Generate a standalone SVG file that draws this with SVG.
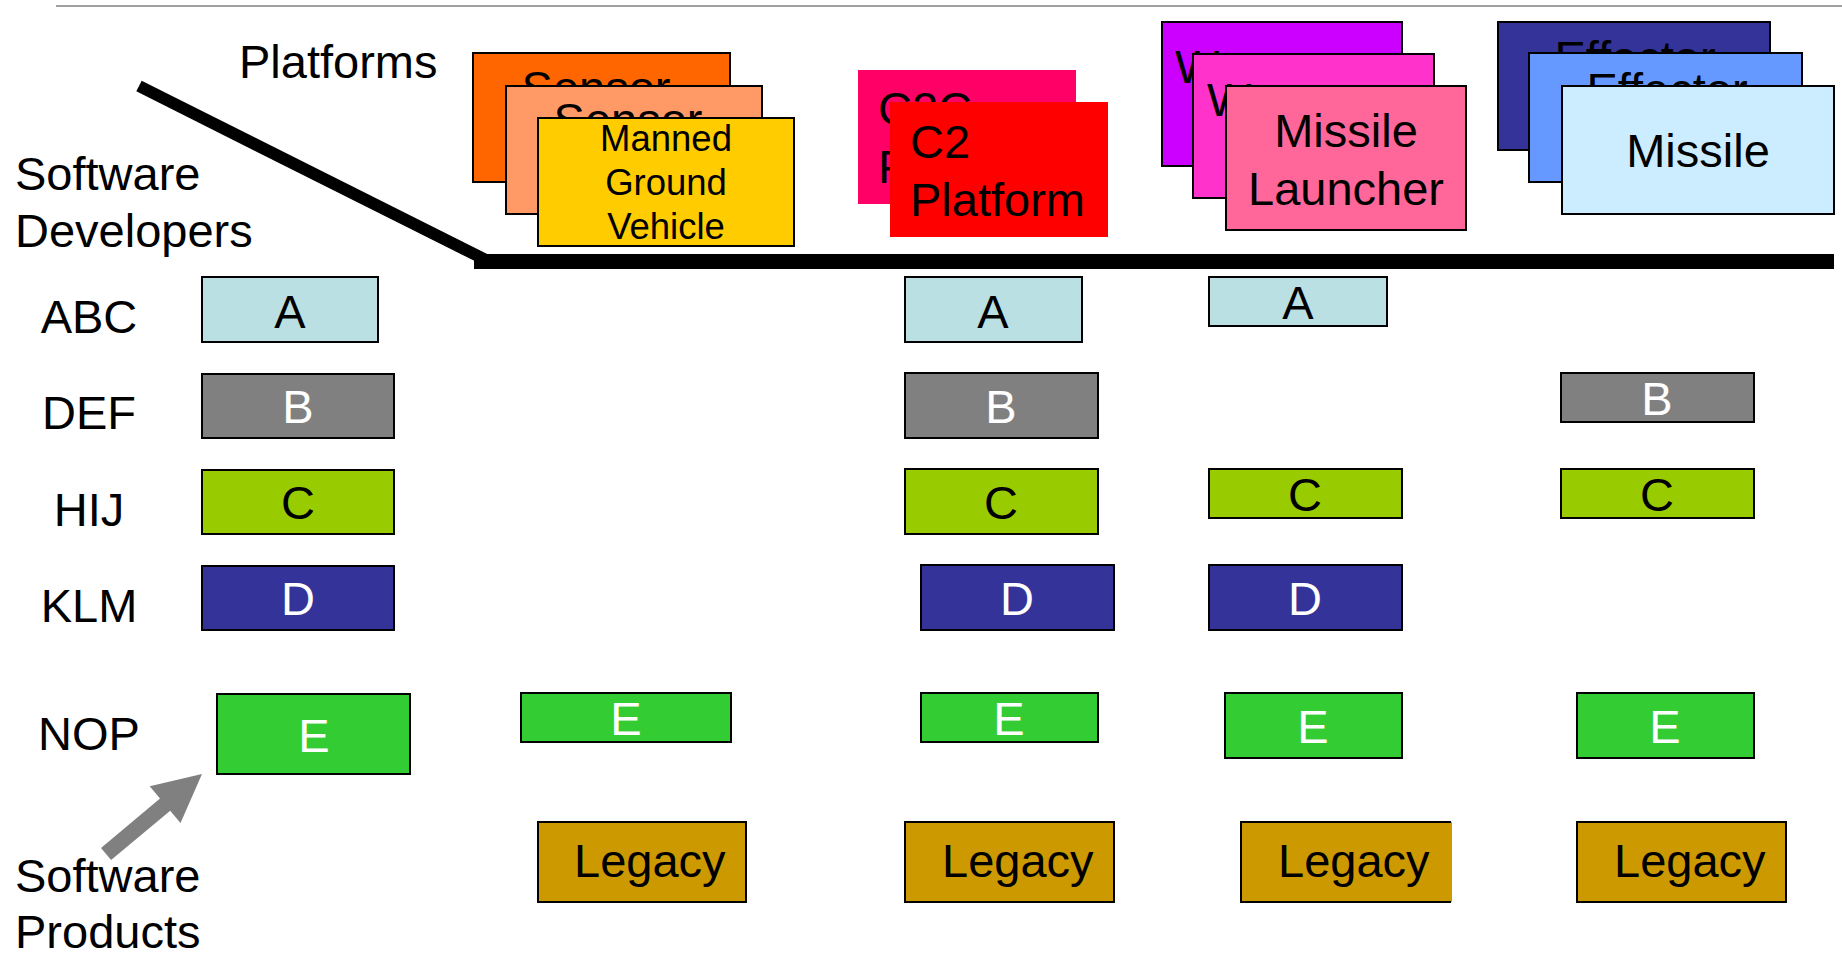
<svg xmlns="http://www.w3.org/2000/svg" width="1842" height="956" viewBox="0 0 1842 956">
  <style>
    .t { font-family: "Liberation Sans", Arial, Helvetica, sans-serif; font-size: 47px; fill: #000; }
    .s { font-size: 36.5px; }
    .w { fill: #fff; }
    .m { text-anchor: middle; }
    .box { stroke: #000; stroke-width: 2; }
    .a { fill: #BBE0E3; }
    .b { fill: #808080; }
    .c { fill: #99CC00; }
    .d { fill: #333399; }
    .e { fill: #33CC33; }
    .leg { fill: #CC9900; }
  </style>

  <!-- header rule -->
  <line x1="56" y1="6" x2="1842" y2="6" stroke="#A0A0A0" stroke-width="2"/>

  <!-- axis titles -->
  <g id="axis-labels">
    <text class="t" x="239" y="78">Platforms</text>
    <text class="t" x="15" y="190">Software</text>
    <text class="t" x="15" y="247">Developers</text>
    <text class="t" x="15" y="892">Software</text>
    <text class="t" x="15" y="948">Products</text>
  </g>

  <!-- divider: diagonal and horizontal bar -->
  <g id="divider">
    <line x1="139" y1="86" x2="488" y2="261" stroke="#000" stroke-width="12"/>
    <rect x="474" y="254" width="1360" height="15" fill="#000"/>
  </g>

  <!-- developer row labels -->
  <g id="developers">
    <text class="t m" x="89" y="333">ABC</text>
    <text class="t m" x="89" y="429">DEF</text>
    <text class="t m" x="89" y="526">HIJ</text>
    <text class="t m" x="89" y="622">KLM</text>
    <text class="t m" x="89" y="750">NOP</text>
  </g>

  <!-- platform stacks -->
  <g id="sensor-stack">
    <rect class="box" x="473" y="53" width="257" height="129" fill="#FF6600"/>
    <text class="t m" x="596" y="104">Sensor</text>
    <rect class="box" x="506" y="86" width="256" height="128" fill="#FF9966"/>
    <text class="t m" x="628" y="136">Sensor</text>
    <rect class="box" x="538" y="118" width="256" height="128" fill="#FFCC00"/>
    <text class="t s m" x="666" y="151">Manned</text>
    <text class="t s m" x="666" y="195">Ground</text>
    <text class="t s m" x="666" y="239">Vehicle</text>
  </g>

  <g id="c2-stack">
    <rect x="858" y="70" width="218" height="134" fill="#FF0066"/>
    <text class="t" x="878" y="125">C2C</text>
    <text class="t" x="878" y="183">Platform</text>
    <rect x="890" y="102" width="218" height="135" fill="#FF0000"/>
    <text class="t" x="910" y="158">C2</text>
    <text class="t" x="910" y="216">Platform</text>
  </g>

  <g id="weapon-stack">
    <rect class="box" x="1162" y="22" width="240" height="144" fill="#CC00FF"/>
    <text class="t" x="1175" y="83">Weapon</text>
    <rect class="box" x="1193" y="54" width="241" height="144" fill="#FF33CC"/>
    <text class="t" x="1207" y="116">Weapon</text>
    <rect class="box" x="1226" y="86" width="240" height="144" fill="#FF6699"/>
    <text class="t m" x="1346" y="147">Missile</text>
    <text class="t m" x="1346" y="205">Launcher</text>
  </g>

  <g id="effector-stack">
    <rect class="box" x="1498" y="22" width="272" height="128" fill="#333399"/>
    <text class="t m" x="1635" y="74">Effector</text>
    <rect class="box" x="1529" y="53" width="273" height="129" fill="#6699FF"/>
    <text class="t m" x="1667" y="106">Effector</text>
    <rect class="box" x="1562" y="86" width="272" height="128" fill="#CCECFF"/>
    <text class="t m" x="1698" y="167">Missile</text>
  </g>

  <!-- column 1: software products -->
  <g id="col1-A"><rect class="box a" x="202" y="277" width="176" height="65"/><text class="t m" x="290" y="328">A</text></g>
  <g id="col1-B"><rect class="box b" x="202" y="374" width="192" height="64"/><text class="t m w" x="298" y="423">B</text></g>
  <g id="col1-C"><rect class="box c" x="202" y="470" width="192" height="64"/><text class="t m" x="298" y="519">C</text></g>
  <g id="col1-D"><rect class="box d" x="202" y="566" width="192" height="64"/><text class="t m w" x="298" y="615">D</text></g>
  <g id="col1-E"><rect class="box e" x="217" y="694" width="193" height="80"/><text class="t m w" x="314" y="752">E</text></g>

  <!-- column 2 -->
  <g id="col2-E"><rect class="box e" x="521" y="693" width="210" height="49"/><text class="t m w" x="626" y="735">E</text></g>
  <g id="col2-legacy"><rect class="box leg" x="538" y="822" width="208" height="80"/><text class="t" x="574" y="877">Legacy</text></g>

  <!-- column 3 -->
  <g id="col3-A"><rect class="box a" x="905" y="277" width="177" height="65"/><text class="t m" x="993" y="328">A</text></g>
  <g id="col3-B"><rect class="box b" x="905" y="373" width="193" height="65"/><text class="t m w" x="1001" y="423">B</text></g>
  <g id="col3-C"><rect class="box c" x="905" y="469" width="193" height="65"/><text class="t m" x="1001" y="519">C</text></g>
  <g id="col3-D"><rect class="box d" x="921" y="565" width="193" height="65"/><text class="t m w" x="1017" y="615">D</text></g>
  <g id="col3-E"><rect class="box e" x="921" y="693" width="177" height="49"/><text class="t m w" x="1009" y="735">E</text></g>
  <g id="col3-legacy"><rect class="box leg" x="905" y="822" width="209" height="80"/><text class="t" x="942" y="877">Legacy</text></g>

  <!-- column 4 -->
  <g id="col4-A"><rect class="box a" x="1209" y="277" width="178" height="49"/><text class="t m" x="1298" y="319">A</text></g>
  <g id="col4-C"><rect class="box c" x="1209" y="469" width="193" height="49"/><text class="t m" x="1305" y="511">C</text></g>
  <g id="col4-D"><rect class="box d" x="1209" y="565" width="193" height="65"/><text class="t m w" x="1305" y="615">D</text></g>
  <g id="col4-E"><rect class="box e" x="1225" y="693" width="177" height="65"/><text class="t m w" x="1313" y="743">E</text></g>
  <g id="col4-legacy">
    <rect class="leg" x="1241" y="822" width="211" height="80"/>
    <path d="M1451 822 H1241 V902 H1451" fill="none" stroke="#000" stroke-width="2"/>
    <text class="t" x="1278" y="877">Legacy</text>
  </g>

  <!-- column 5 -->
  <g id="col5-B"><rect class="box b" x="1561" y="373" width="193" height="49"/><text class="t m w" x="1657" y="415">B</text></g>
  <g id="col5-C"><rect class="box c" x="1561" y="469" width="193" height="49"/><text class="t m" x="1657" y="511">C</text></g>
  <g id="col5-E"><rect class="box e" x="1577" y="693" width="177" height="65"/><text class="t m w" x="1665" y="743">E</text></g>
  <g id="col5-legacy"><rect class="box leg" x="1577" y="822" width="209" height="80"/><text class="t" x="1614" y="877">Legacy</text></g>

  <!-- connectors -->
  <g id="connectors">
    <polygon points="101,848 160,798.6 149.7,786.3 202,774 180.5,823.1 170.2,810.8 111.1,860.1" fill="#808080"/>
  </g>
</svg>
